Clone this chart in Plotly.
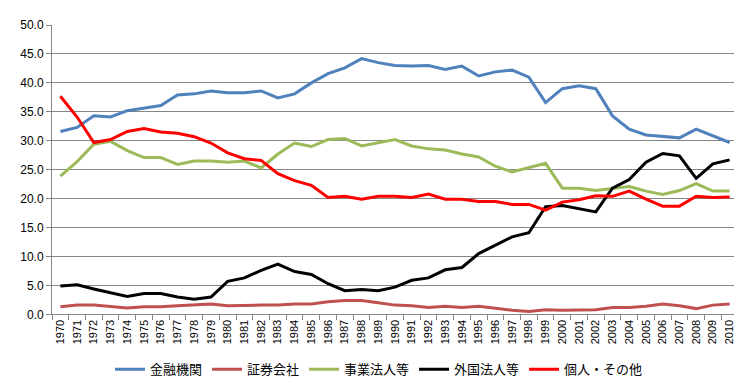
import plotly.graph_objects as go

years = [str(y) for y in range(1970, 2011)]

kinyu = [31.6, 32.3, 34.3, 34.1, 35.2, 35.6, 36.1, 37.9, 38.1, 38.6,
         38.3, 38.3, 38.6, 37.4, 38.1, 40.0, 41.6, 42.6, 44.2, 43.5,
         43.0, 42.9, 43.0, 42.3, 42.9, 41.2, 41.9, 42.2, 41.0, 36.6,
         39.0, 39.5, 39.0, 34.3, 32.0, 31.0, 30.7, 30.5, 32.0, 30.8, 29.7]

shoken = [1.3, 1.6, 1.6, 1.3, 1.1, 1.3, 1.3, 1.5, 1.6, 1.8,
          1.5, 1.6, 1.6, 1.6, 1.8, 1.8, 2.2, 2.4, 2.4, 2.0,
          1.6, 1.5, 1.2, 1.4, 1.2, 1.4, 1.0, 0.7, 0.5, 0.8,
          0.7, 0.7, 0.8, 1.2, 1.2, 1.4, 1.8, 1.5, 1.0, 1.6, 1.8]

jigyo = [23.9, 26.4, 29.4, 29.9, 28.3, 27.1, 27.1, 25.9, 26.5, 26.5,
         26.3, 26.5, 25.3, 27.7, 29.6, 29.0, 30.2, 30.4, 29.1, 29.6,
         30.2, 29.1, 28.6, 28.4, 27.7, 27.2, 25.6, 24.6, 25.3, 26.1,
         21.8, 21.8, 21.4, 21.7, 22.1, 21.3, 20.7, 21.4, 22.6, 21.3, 21.3]

gaikoku = [4.9, 5.1, 4.4, 3.8, 3.1, 3.6, 3.6, 3.0, 2.6, 3.0,
           5.7, 6.3, 7.6, 8.7, 7.4, 6.9, 5.3, 4.1, 4.3, 4.1,
           4.7, 5.9, 6.3, 7.7, 8.1, 10.5, 11.9, 13.4, 14.1, 18.6,
           18.8, 18.3, 17.7, 21.8, 23.3, 26.3, 27.8, 27.4, 23.5, 26.0, 26.7]

kojin = [37.7, 34.1, 29.7, 30.2, 31.6, 32.1, 31.5, 31.3, 30.7, 29.6,
         27.9, 26.9, 26.6, 24.3, 23.1, 22.3, 20.2, 20.4, 19.9, 20.4,
         20.4, 20.2, 20.8, 19.9, 19.9, 19.5, 19.5, 19.0, 19.0, 18.0,
         19.4, 19.8, 20.5, 20.4, 21.3, 19.9, 18.7, 18.7, 20.4, 20.2, 20.3]

series = [
    ("金融機関", kinyu, "#4F81BD"),
    ("証券会社", shoken, "#C0504D"),
    ("事業法人等", jigyo, "#9BBB59"),
    ("外国法人等", gaikoku, "#000000"),
    ("個人・その他", kojin, "#FF0000"),
]

yticks = [i * 5.0 for i in range(11)]

fig = go.Figure()
for name, vals, color in series:
    fig.add_trace(go.Scatter(x=years, y=vals, mode="lines", name=name,
                             line=dict(color=color, width=3)))

fig.update_layout(
    width=742, height=382,
    margin=dict(l=44, r=12, t=10, b=69),
    paper_bgcolor="white", plot_bgcolor="white",
    font=dict(family="Liberation Sans, Arial, sans-serif", size=11, color="#000000"),
    legend=dict(orientation="h", x=0.5, xanchor="center", xref="container",
                y=0.015, yanchor="bottom", yref="container",
                font=dict(family="Noto Sans CJK JP", size=13),
                itemwidth=30, tracegroupgap=0),
    showlegend=True,
)
fig.update_xaxes(
    type="category", range=[-0.5, 40.5], tickangle=-90,
    tickson="boundaries", ticks="outside", ticklen=5, tickcolor="#868686",
    showline=True, linecolor="#868686", linewidth=1, showgrid=False,
    tickfont=dict(size=11), fixedrange=True,
)
fig.update_yaxes(
    range=[0, 50], tickvals=yticks, tickformat=".1f",
    ticks="outside", ticklen=5, tickcolor="#868686",
    showline=True, linecolor="#868686", linewidth=1,
    showgrid=True, gridcolor="#868686", gridwidth=1, zeroline=False,
    tickfont=dict(size=12),
)

fig.write_html("out.html")
